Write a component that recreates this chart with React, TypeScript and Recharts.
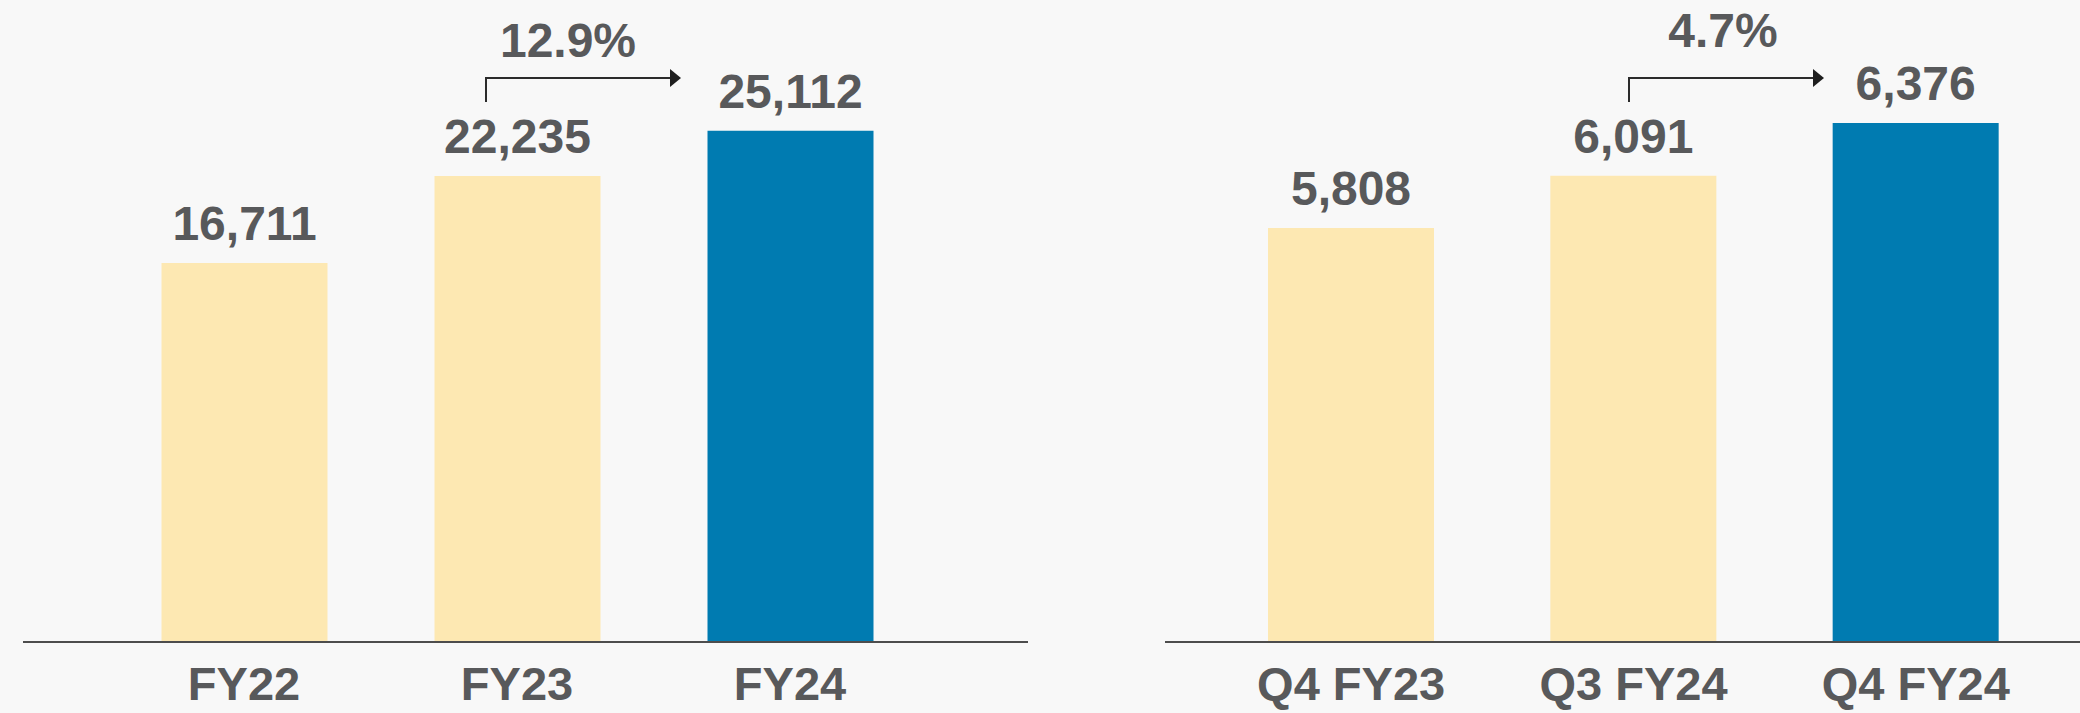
import React from 'react';
import { BarChart, Bar, XAxis, YAxis, Cell, LabelList } from 'recharts';

// ---- data ----
const FY_CATEGORIES = ['FY22', 'FY23', 'FY24'];
const FY_VALUES = [16711, 22235, 25112];
const Q_CATEGORIES = ['Q4 FY23', 'Q3 FY24', 'Q4 FY24'];
const Q_VALUES = [5808, 6091, 6376];
const GROWTH_LABELS = ['12.9%', '4.7%'];

// ---- styles ----
const YELLOW = '#fde8b2';
const BLUE = '#007bb1';
const BAR_FILLS = [YELLOW, YELLOW, BLUE];
const TEXT = '#58595b';
const FONT = '"Liberation Sans", Arial, Helvetica, sans-serif';
const BG = '#f8f8f8';
const H = 713;

type PanelProps = {
  categories: string[];
  values: number[];
  domain: [number, number];
  left: number;
  width: number;
  margin: { top: number; right: number; bottom: number; left: number };
  padding: { left: number; right: number };
};

function Panel({ categories, values, domain, left, width, margin, padding }: PanelProps) {
  const data = categories.map((c, i) => ({ name: c, value: values[i] }));
  return (
    <div style={{ position: 'absolute', left, top: 0, width, height: H }}>
      <BarChart width={width} height={H} data={data} margin={margin}>
        <XAxis
          dataKey="name"
          type="category"
          interval={0}
          height={71}
          padding={padding}
          axisLine={{ stroke: '#4d4d4d', strokeWidth: 2 }}
          tickLine={false}
          tickSize={0}
          tickMargin={25}
          tick={{ fill: TEXT, fontSize: 47, fontWeight: 700, fontFamily: FONT }}
        />
        <YAxis hide type="number" domain={domain} allowDataOverflow />
        <Bar
          dataKey={(d: { value: number }) => [domain[0], d.value]}
          barSize={166}
          isAnimationActive={false}
        >
          {data.map((_, i) => (
            <Cell key={i} fill={BAR_FILLS[i]} />
          ))}
          <LabelList
            dataKey="value"
            position="top"
            offset={23}
            formatter={(v: number) => Number(v).toLocaleString('en-US')}
            fill={TEXT}
            fontSize={48}
            fontWeight={700}
            fontFamily={FONT}
          />
        </Bar>
      </BarChart>
    </div>
  );
}

function GrowthArrow({ x0, y0, y1, x1, label, labelX, labelY }: { x0: number; y0: number; y1: number; x1: number; label: string; labelX: number; labelY: number }) {
  return (
    <g>
      <path d={`M${x0} ${y0} V${y1} H${x1 - 10}`} fill="none" stroke="#2b2b2b" strokeWidth={2} />
      <polygon points={`${x1},${y1} ${x1 - 11},${y1 - 9} ${x1 - 11},${y1 + 9}`} fill="#1e1e1e" />
      <text x={labelX} y={labelY} textAnchor="middle" fill={TEXT} fontSize={48} fontWeight={700} fontFamily={FONT}>
        {label}
      </text>
    </g>
  );
}

export default function App() {
  return (
    <div style={{ position: 'absolute', left: 0, top: 0, width: 2080, height: H, background: BG, overflow: 'hidden', fontFamily: FONT }}>
      <Panel
        categories={FY_CATEGORIES}
        values={FY_VALUES}
        domain={[-7396, 33433]}
        left={0}
        width={1040}
        margin={{ top: 0, right: 12, bottom: 0, left: 23 }}
        padding={{ left: 84.5, right: 101.5 }}
      />
      <Panel
        categories={Q_CATEGORIES}
        values={Q_VALUES}
        domain={[3568, 7042]}
        left={1040}
        width={1040}
        margin={{ top: 0, right: 0, bottom: 0, left: 125 }}
        padding={{ left: 45, right: 23 }}
      />
      <svg width={2080} height={H} style={{ position: 'absolute', left: 0, top: 0, pointerEvents: 'none' }}>
        <GrowthArrow x0={486} y0={102} y1={78} x1={681} label={GROWTH_LABELS[0]} labelX={568} labelY={57} />
        <GrowthArrow x0={1629} y0={102} y1={78} x1={1824} label={GROWTH_LABELS[1]} labelX={1723} labelY={47} />
      </svg>
    </div>
  );
}
